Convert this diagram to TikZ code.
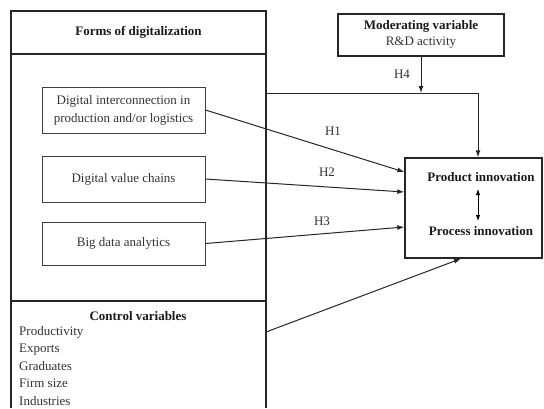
\documentclass[tikz,border=0pt]{standalone}
\usepackage{fontspec}
\setmainfont{Liberation Serif}
\usetikzlibrary{arrows.meta, positioning}

\begin{document}
\begin{tikzpicture}[
  x=1pt, y=-1pt,
  font=\fontsize{13pt}{18pt}\selectfont,
  txt/.style={text=black!80, inner sep=0pt},
  bold/.style={txt, font=\fontsize{13pt}{18pt}\selectfont\bfseries, text=black!90},
  form/.style={draw=black!75, line width=1pt, align=center, minimum width=163pt, text=black!80},
  frame/.style={draw=black!85, line width=1.3pt},
  arrow/.style={-{Latex[length=7pt,width=5pt]}, line width=1pt, black!85},
  hyp/.style={txt}
]
\useasboundingbox (0,0) rectangle (544,408);

% left panel with its two dividers
\draw[frame] (11,408) -- (11,11) -- (266,11) -- (266,408);
\draw[frame] (11,54) -- (266,54);
\draw[frame] (11,301) -- (266,301);
\node[bold] (forms) at (138.5,32.5) {Forms of digitalization};

\node[form, minimum height=46pt] (inter) at (123.5,110) {Digital interconnection in\\production and/or logistics};
\node[form, minimum height=46pt] (chains) at (123.5,179) {Digital value chains};
\node[form, minimum height=43pt] (bigdata) at (123.5,243.5) {Big data analytics};

% control variables
\node[bold] (ctrl) at (138,316) {Control variables};
\node[txt, anchor=north west, align=left, font=\fontsize{13pt}{17.5pt}\selectfont] (ctrllist) at (19,326)
  {Productivity\\Exports\\Graduates\\Firm size\\Industries};
\coordinate (ctrlout) at (266,332);

% moderator
\node[draw=black!85, line width=1.1pt, minimum width=166pt, minimum height=42pt] (mod) at (421,35) {};
\node[bold] (modtitle) at (421,26) {Moderating variable};
\node[txt] (rnd) at (421,43) {R\&D activity};

% outcome
\node[draw=black!85, line width=1.3pt, minimum width=137pt, minimum height=100pt] (innov) at (473.5,208) {};
\node[bold] (prod) at (481,177) {Product innovation};
\node[bold] (proc) at (481,231) {Process innovation};
\draw[{Latex[length=6pt,width=4.5pt]}-{Latex[length=6pt,width=4.5pt]}, line width=0.9pt] (478,189) -- (478,221);

% hypotheses
\coordinate (join) at (478,93);
\draw[line width=1pt, black!85] (266,93) -- (join);
\draw[arrow] (join) -- (join |- innov.north);
\draw[arrow] (mod) -- (mod |- join);
\draw[arrow] (inter.east) -- ([yshift=36pt]innov.west);
\draw[arrow] (chains.east) -- ([yshift=16pt]innov.west);
\draw[arrow] (bigdata.east) -- ([yshift=-19pt]innov.west);
\draw[arrow] (ctrlout) -- ([xshift=-12.5pt]innov.south);

\node[hyp] (h1) at (333,131) {H1};
\node[hyp] (h2) at (327,172) {H2};
\node[hyp] (h3) at (322,221) {H3};
\node[hyp] (h4) at (402,74) {H4};
\end{tikzpicture}
\end{document}
